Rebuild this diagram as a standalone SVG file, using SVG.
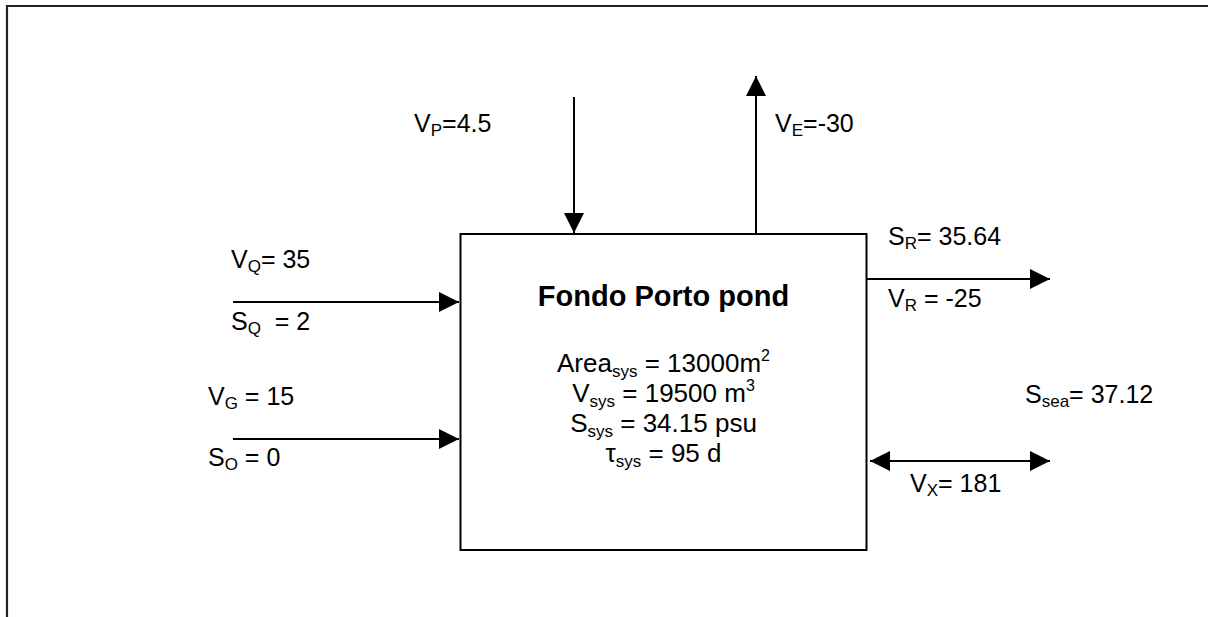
<svg xmlns="http://www.w3.org/2000/svg" width="1208" height="617" viewBox="0 0 1208 617">
<style>
text{font-family:"Liberation Sans",Arial,sans-serif;fill:#000;white-space:pre}
.lbl{font-size:25px}
.box{font-size:26px}
.ttl{font-size:29px;font-weight:bold}
.sub{font-size:17px}
.sup{font-size:16px}
.ln{stroke:#000;stroke-width:2;fill:none}
</style>
<defs>
<marker id="ah" viewBox="0 0 20 20" refX="20" refY="10" markerWidth="20" markerHeight="20" markerUnits="userSpaceOnUse" orient="auto-start-reverse">
<path d="M0,0 L20,10 L0,20 z" fill="#000"/>
</marker>
</defs>
<rect width="1208" height="617" fill="#fff"/>
<path d="M7,617 L7,6 L1208,6" stroke="#222" stroke-width="2.2" fill="none"/>
<g id="pond">
<rect x="460.5" y="234" width="406" height="316" fill="#fff" stroke="#000" stroke-width="2"/>
<text class="ttl" x="663.5" y="306" text-anchor="middle">Fondo Porto pond</text>
<text class="box" x="663.5" y="372" text-anchor="middle">Area<tspan class="sub" dy="5">sys</tspan><tspan dy="-5"> = 13000m</tspan><tspan class="sup" dy="-11">2</tspan></text>
<text class="box" x="663.5" y="402" text-anchor="middle">V<tspan class="sub" dy="5">sys</tspan><tspan dy="-5"> = 19500 m</tspan><tspan class="sup" dy="-11">3</tspan></text>
<text class="box" x="663.5" y="432" text-anchor="middle">S<tspan class="sub" dy="5">sys</tspan><tspan dy="-5"> = 34.15 psu</tspan></text>
<text class="box" x="663.5" y="462" text-anchor="middle">τ<tspan class="sub" dy="5">sys</tspan><tspan dy="-5"> = 95 d</tspan></text>
</g>
<g id="connectors">
<line class="ln" x1="574" y1="97" x2="574" y2="233" marker-end="url(#ah)"/>
<line class="ln" x1="756" y1="234" x2="756" y2="76" marker-end="url(#ah)"/>
<line class="ln" x1="233" y1="302" x2="459" y2="302" marker-end="url(#ah)"/>
<line class="ln" x1="233" y1="439" x2="459" y2="439" marker-end="url(#ah)"/>
<line class="ln" x1="867" y1="279" x2="1050" y2="279" marker-end="url(#ah)"/>
<line class="ln" x1="870" y1="461" x2="1050" y2="461" marker-start="url(#ah)" marker-end="url(#ah)"/>
</g>
<g id="labels">
<text class="lbl" x="414" y="132">V<tspan class="sub" dy="4">P</tspan><tspan dy="-4">=4.5</tspan></text>
<text class="lbl" x="775" y="132">V<tspan class="sub" dy="4">E</tspan><tspan dy="-4">=-30</tspan></text>
<text class="lbl" x="231" y="268">V<tspan class="sub" dy="4">Q</tspan><tspan dy="-4">= 35</tspan></text>
<text class="lbl" x="231" y="330">S<tspan class="sub" dy="4">Q</tspan><tspan dy="-4">  = 2</tspan></text>
<text class="lbl" x="208" y="405">V<tspan class="sub" dy="4">G</tspan><tspan dy="-4"> = 15</tspan></text>
<text class="lbl" x="208" y="466">S<tspan class="sub" dy="4">O</tspan><tspan dy="-4"> = 0</tspan></text>
<text class="lbl" x="888" y="245">S<tspan class="sub" dy="4">R</tspan><tspan dy="-4">= 35.64</tspan></text>
<text class="lbl" x="888" y="307">V<tspan class="sub" dy="4">R</tspan><tspan dy="-4"> = -25</tspan></text>
<text class="lbl" x="1025" y="403">S<tspan class="sub" dy="4">sea</tspan><tspan dy="-4">= 37.12</tspan></text>
<text class="lbl" x="910" y="492">V<tspan class="sub" dy="4">X</tspan><tspan dy="-4">= 181</tspan></text>
</g>
</svg>
